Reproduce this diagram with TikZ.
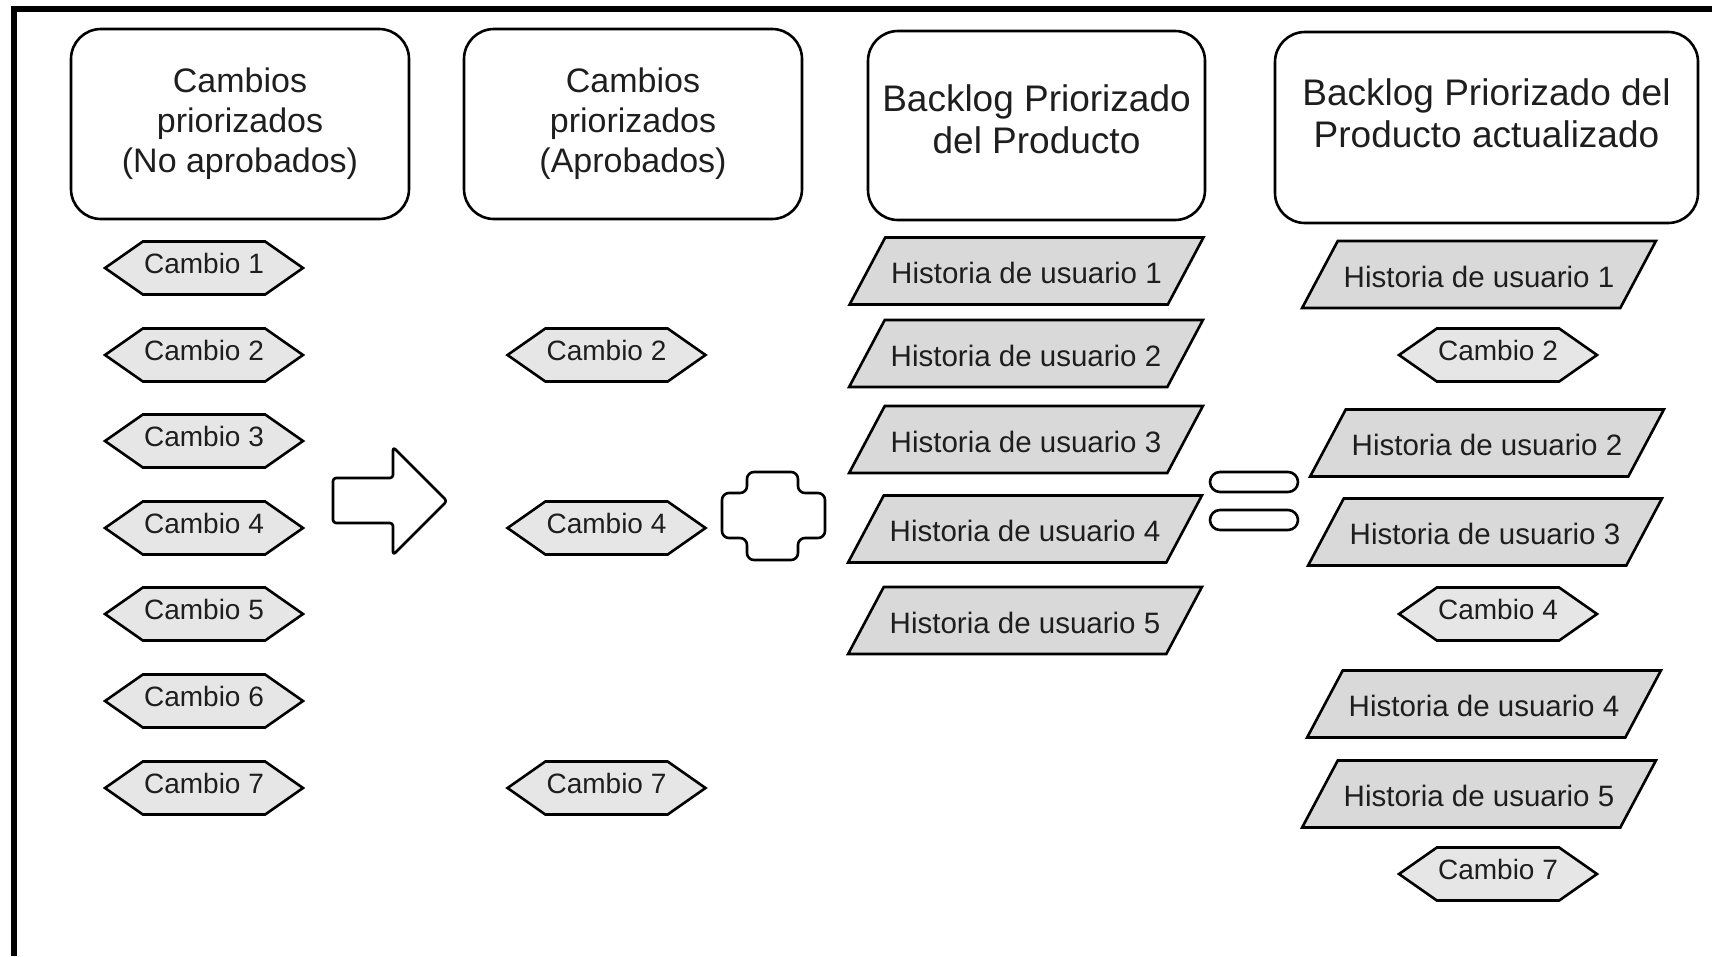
\documentclass[tikz,border=0pt]{standalone}
\usepackage{fontspec}
\setmainfont{Liberation Sans}
\usetikzlibrary{shapes.symbols,shapes.geometric}

\definecolor{hexgray}{HTML}{E6E6E6}
\definecolor{histgray}{HTML}{D9D9D9}
\definecolor{txt}{HTML}{1E1E1E}

\tikzset{
  header/.style={draw, line width=2.6, rounded corners=30, align=center, text=txt,
    minimum width=338, minimum height=190, inner sep=0},
  cambio/.style={signal, signal to=east and west, signal pointer angle=70, draw,
    line width=2.6, fill=hexgray, text=txt, minimum width=198, minimum height=53,
    inner sep=0, text height=20.5, text depth=9, font=\fontsize{28}{34}\selectfont},
  historia/.style={trapezium, trapezium left angle=62, trapezium right angle=118,
    draw, line width=2.6, fill=histgray, text=txt, inner xsep=6, inner ysep=20.75,
    text height=25.5, text depth=0, font=\fontsize{29.5}{35}\selectfont},
  symb/.style={line width=2.6, line join=round},
}

\begin{document}
\begin{tikzpicture}[x=1pt,y=-1pt]
\useasboundingbox (0,0) rectangle (1712,956);
\draw[line width=6] (14,956) -- (14,8.5) -- (1712,8.5);

\node[header, font=\fontsize{34}{40}\selectfont] (noap) at (240,124) {Cambios\\priorizados\\(No aprobados)};
\node[header, font=\fontsize{34}{40}\selectfont] (ap) at (633,124) {Cambios\\priorizados\\(Aprobados)};
\node[header, font=\fontsize{37}{42}\selectfont, minimum width=337, minimum height=189] (bl) at (1036.5,125.5) {Backlog Priorizado\\del Producto\\[-29pt]};
\node[header, font=\fontsize{37}{42}\selectfont, minimum width=423, minimum height=191] (bla) at (1486.5,127.5) {Backlog Priorizado del\\Producto actualizado\\[-13pt]};

\node[cambio] (c1) at (204,268) {Cambio 1};
\node[cambio] (c2) at (204,355) {Cambio 2};
\node[cambio] (c3) at (204,441) {Cambio 3};
\node[cambio] (c4) at (204,528) {Cambio 4};
\node[cambio] (c5) at (204,614) {Cambio 5};
\node[cambio] (c6) at (204,701) {Cambio 6};
\node[cambio] (c7) at (204,788) {Cambio 7};

\node[cambio] (a2) at (606.5,355) {Cambio 2};
\node[cambio] (a4) at (606.5,528) {Cambio 4};
\node[cambio] (a7) at (606.5,788) {Cambio 7};

\node[historia] (h1) at (1026.5,271) {Historia de usuario 1};
\node[historia] (h2) at (1026,353.5) {Historia de usuario 2};
\node[historia] (h3) at (1026,439.5) {Historia de usuario 3};
\node[historia] (h4) at (1025,529) {Historia de usuario 4};
\node[historia] (h5) at (1025,620.5) {Historia de usuario 5};

\node[historia] (n1) at (1479,274.5) {Historia de usuario 1};
\node[cambio] (n2) at (1498,355) {Cambio 2};
\node[historia] (n3) at (1487,443) {Historia de usuario 2};
\node[historia] (n4) at (1485,532) {Historia de usuario 3};
\node[cambio] (n5) at (1498,614) {Cambio 4};
\node[historia] (n6) at (1484,704) {Historia de usuario 4};
\node[historia] (n7) at (1479,794) {Historia de usuario 5};
\node[cambio] (n8) at (1498,874) {Cambio 7};

\draw[symb, rounded corners=3] (333,478) -- (393,478) -- (393,447) -- (447,501)
  -- (393,555) -- (393,523) -- (333,523) -- cycle;
\draw[symb, rounded corners=7] (747,472) -- (798,472) -- (798,493) -- (825,493)
  -- (825,538) -- (798,538) -- (798,560) -- (747,560) -- (747,538) -- (722,538)
  -- (722,493) -- (747,493) -- cycle;
\draw[symb, rounded corners=10] (1210,472) rectangle (1298,492);
\draw[symb, rounded corners=10] (1210,510) rectangle (1298,530);
\end{tikzpicture}
\end{document}
